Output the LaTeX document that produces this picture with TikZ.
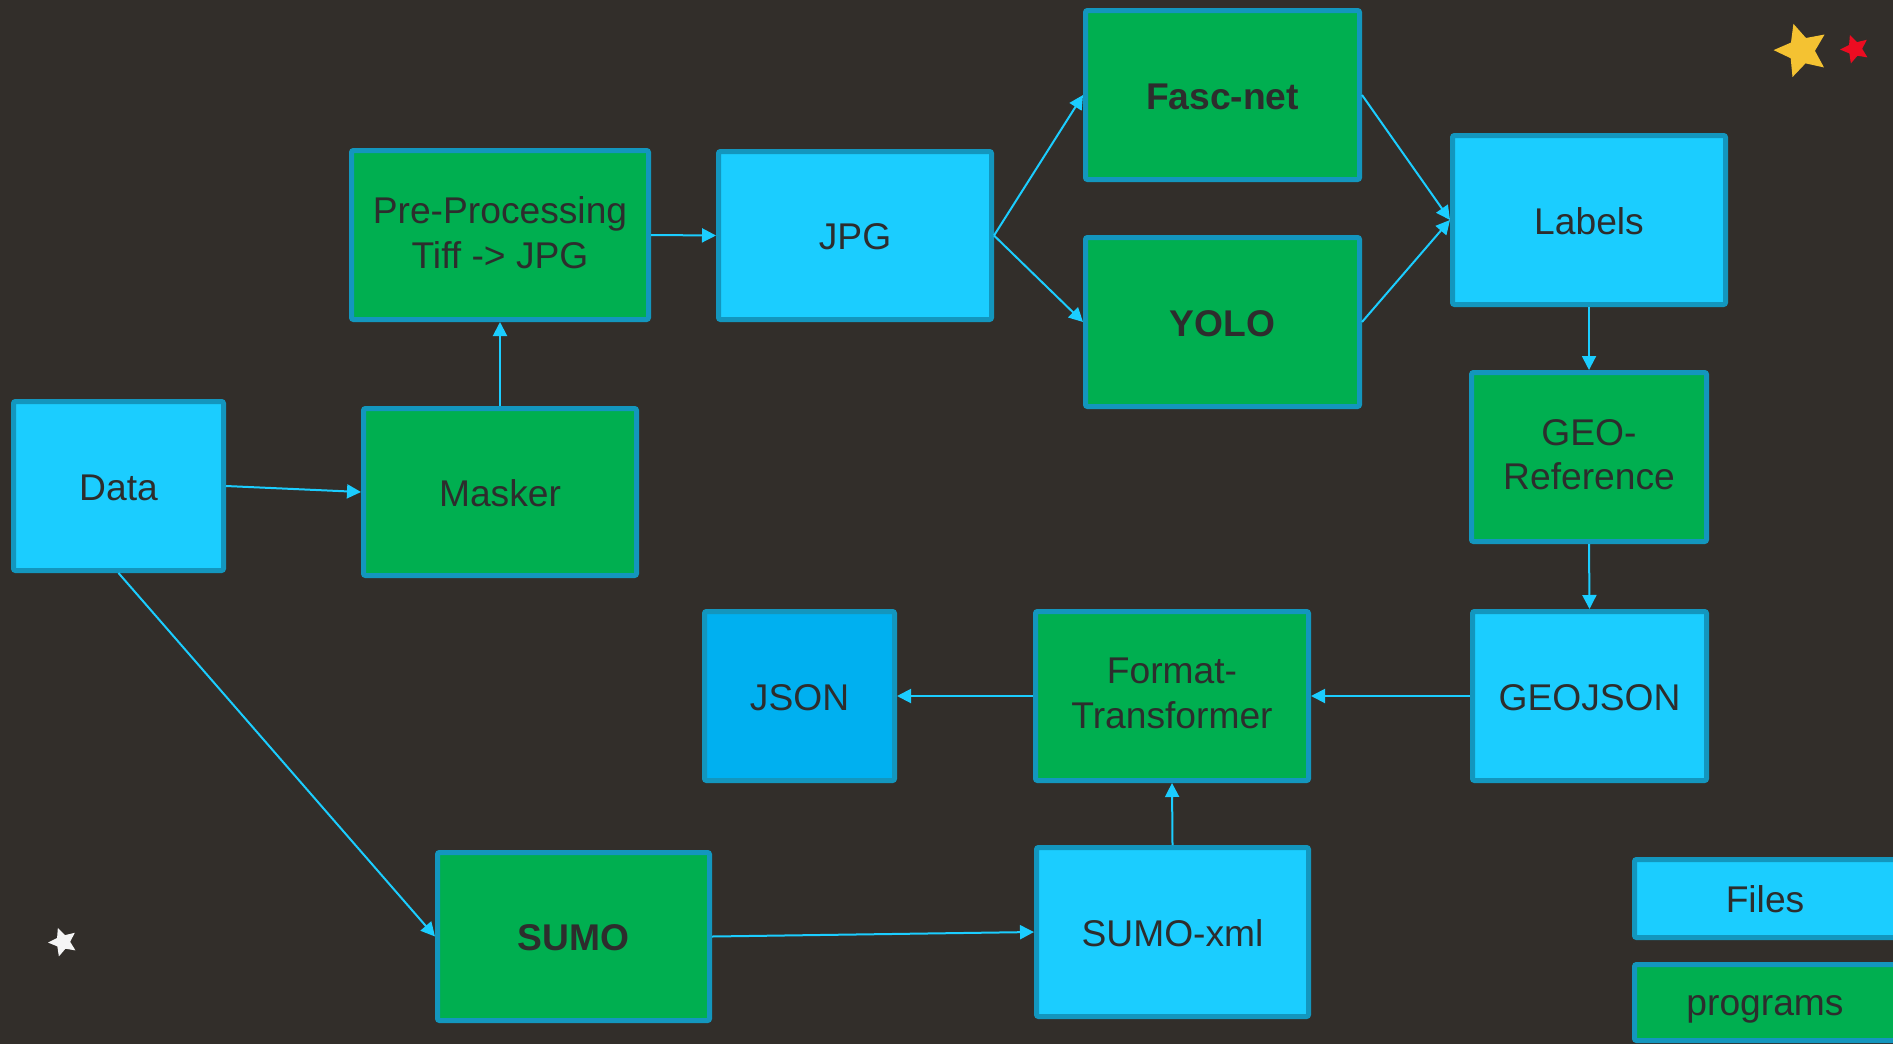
\documentclass[tikz,border=0pt]{standalone}
\usepackage{fontspec}
\setmainfont{Liberation Sans}
\usetikzlibrary{arrows.meta,shapes.geometric}
\definecolor{bg}{RGB}{50,46,42}
\definecolor{filecol}{RGB}{27,205,255}
\definecolor{progcol}{RGB}{0,175,80}
\definecolor{jsoncol}{RGB}{0,176,240}
\definecolor{edgecol}{RGB}{19,150,190}
\definecolor{arrowcol}{RGB}{27,205,255}
\definecolor{txtcol}{RGB}{45,45,45}
\definecolor{staryellow}{RGB}{244,194,50}
\definecolor{starred}{RGB}{236,12,33}
\definecolor{starwhite}{RGB}{245,245,245}
\newcommand{\linestrut}{\rule[-2.6pt]{0pt}{19.4pt}}
\begin{document}
\begin{tikzpicture}[x=0.5pt,y=-0.5pt,
  boxbase/.style={draw=edgecol, line width=2.5pt, rounded corners=1pt, inner sep=0pt,
    align=center, text=txtcol, font=\fontsize{18.6}{22.3}\selectfont,
    minimum width=136.5pt, minimum height=84.5pt,
    execute at begin node=\linestrut, execute at end node=\linestrut},
  filebox/.style={boxbase, fill=filecol},
  progbox/.style={boxbase, fill=progcol},
  boldtext/.style={font=\fontsize{18.6}{22.3}\selectfont\bfseries},
  link/.style={draw=arrowcol, line width=1pt, -{Triangle[length=7pt,width=7pt]}},
  starshape/.style={star, star points=5, star point ratio=2.1, inner sep=0pt, draw=none}
]
\useasboundingbox (0,0) rectangle (1893,1044);
\fill[bg] (0,0) rectangle (1893,1044);
\clip (0,0) rectangle (1893,1044);

\node[filebox, minimum width=105pt] (data) at (118.5,486) {Data};
\node[progbox, minimum height=83.5pt] (masker) at (500,492) {Masker};
\node[progbox, minimum width=148.5pt] (pre) at (500,235) {Pre-Processing\\Tiff -> JPG};
\node[filebox, minimum height=84pt] (jpg) at (855,235.5) {JPG};
\node[progbox, boldtext, minimum width=137pt] (fasc) at (1222.5,95) {Fasc-net};
\node[progbox, boldtext, minimum width=137pt] (yolo) at (1222.5,322) {YOLO};
\node[filebox] (labels) at (1589,220) {Labels};
\node[progbox, minimum width=117.5pt] (georef) at (1589,457) {GEO-\\Reference};
\node[filebox, minimum width=117pt] (geojson) at (1589.5,696) {GEOJSON};
\node[progbox] (format) at (1172,696) {Format-\\Transformer};
\node[boxbase, fill=jsoncol, minimum width=95pt] (json) at (799.5,696) {JSON};
\node[filebox, minimum width=136pt] (sumoxml) at (1172.5,932) {SUMO-xml};
\node[progbox, boldtext, minimum width=136pt, minimum height=84pt] (sumo) at (573.5,936.5) {SUMO};
\node[filebox, minimum width=130.5pt, minimum height=39pt] (files) at (1765,898.5) {Files};
\node[progbox, minimum width=130.5pt, minimum height=38pt] (programs) at (1765,1002.5) {programs};

\draw[link] (data.east) -- (masker.west);
\draw[link] (masker.north) -- (pre.south);
\draw[link] (pre.east) -- (jpg.west);
\draw[link] (jpg.east) -- (fasc.west);
\draw[link] (jpg.east) -- (yolo.west);
\draw[link] (fasc.east) -- (labels.west);
\draw[link] (yolo.east) -- (labels.west);
\draw[link] (labels.south) -- (georef.north);
\draw[link] (georef.south) -- (geojson.north);
\draw[link] (geojson.west) -- (format.east);
\draw[link] (format.west) -- (json.east);
\draw[link] (sumoxml.north) -- (format.south);
\draw[link] (data.south) -- (sumo.west);
\draw[link] (sumo.east) -- (sumoxml.west);

\node[starshape, fill=staryellow, minimum size=28pt, rotate=17] (s1) at (1801.6,50.6) {};
\node[starshape, fill=starred, minimum size=15pt, rotate=20] (s2) at (1855,49) {};
\node[starshape, fill=starwhite, minimum size=15pt, rotate=20] (s3) at (63,942) {};
\end{tikzpicture}
\end{document}
